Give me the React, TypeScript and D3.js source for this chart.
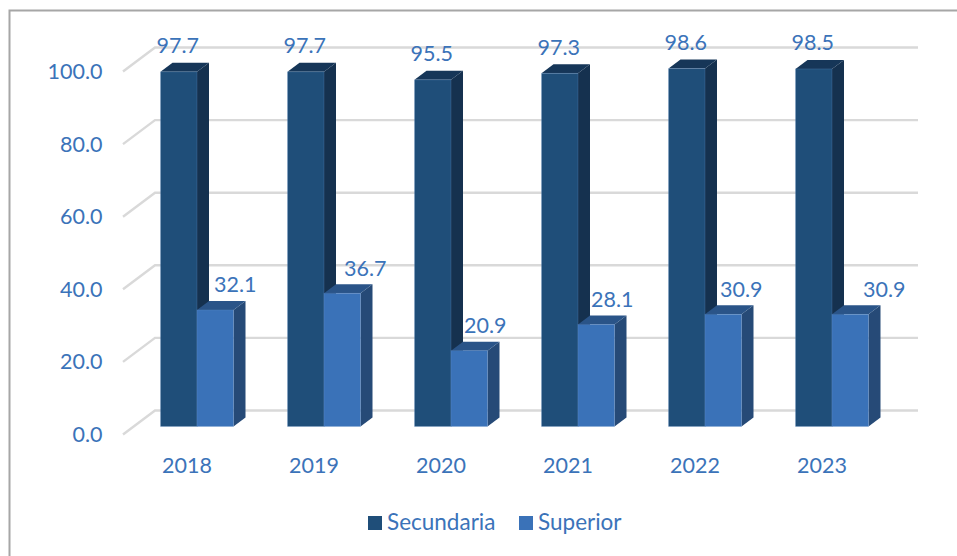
import React from "react";
import * as d3 from "d3";

const years = ["2018", "2019", "2020", "2021", "2022", "2023"];
const secundaria = [97.7, 97.7, 95.5, 97.3, 98.6, 98.5];
const superior = [32.1, 36.7, 20.9, 28.1, 30.9, 30.9];
const yTicks = [0, 20, 40, 60, 80, 100];
const superiorLabelNudge = [20, 23, 16, 16, 18, 34];

const FONT = "Lato, 'Open Sans', sans-serif";
const TEXT = "#3b73b9";
const GRID = "#d9d9d9";
const DX = 12;
const DY = -9;

const y = d3.scaleLinear().domain([0, 100]).range([426.5, 63.5]);
const x = d3.scaleBand<string>().domain(years).range([133.5, 895.5]).paddingInner(54 / 127).paddingOuter(27 / 127);
const series = d3.scaleBand<string>().domain(["Secundaria", "Superior"]).range([0, x.bandwidth()]);

const styles = {
  Secundaria: { front: "#1f4e79", side: "#15314f", top: "#163658" },
  Superior: { front: "#3a72b8", side: "#264a77", top: "#2a5488" },
} as Record<string, { front: string; side: string; top: string }>;

function Bar({ name, year, value }: { name: string; year: string; value: number }) {
  const w = series.bandwidth();
  const x0 = (x(year) as number) + (series(name) as number);
  const x1 = x0 + w;
  const yt = y(value);
  const yb = y(0);
  const s = styles[name];
  const path = d3.line();
  return (
    <g>
      <path d={path([[x1, yt], [x1 + DX, yt + DY], [x1 + DX, yb + DY], [x1, yb]]) + "Z"} fill={s.side} />
      <path d={path([[x0, yt], [x0 + DX, yt + DY], [x1 + DX, yt + DY], [x1, yt]]) + "Z"} fill={s.top} />
      <rect x={x0} y={yt} width={w} height={yb - yt} fill={s.front} stroke="#6f9ad0" strokeOpacity={0.3} strokeWidth={0.8} />
    </g>
  );
}

export default function App() {
  const gridLine = d3.line();
  const FS = 21.5;
  return (
    <svg width={957} height={556} style={{ position: "absolute", left: 0, top: 0, background: "#fff" }} fontFamily={FONT}>
      <path d={gridLine([[9.5, 556], [9.5, 10.5], [957, 10.5]]) as string} fill="none" stroke="#a6a6a6" strokeWidth={2} />

      {yTicks.map((t) => (
        <g key={t}>
          <path
            d={gridLine([[123, y(t) + 8], [155, y(t) - 16], [918, y(t) - 16]]) as string}
            fill="none"
            stroke={GRID}
            strokeWidth={2.4}
          />
          <text x={102.5} y={y(t) + 15.5} textAnchor="end" fontSize={FS} fill={TEXT}>
            {t.toFixed(1)}
          </text>
        </g>
      ))}

      {years.map((yr, i) => (
        <g key={yr}>
          <Bar name="Secundaria" year={yr} value={secundaria[i]} />
          <Bar name="Superior" year={yr} value={superior[i]} />
        </g>
      ))}

      {years.map((yr, i) => (
        <g key={yr} fontSize={FS} fill={TEXT} textAnchor="middle">
          <text x={(x(yr) as number) + series.bandwidth() / 2 - 1} y={y(secundaria[i]) - 18.5}>
            {secundaria[i].toFixed(1)}
          </text>
          <text
            x={(x(yr) as number) + series.bandwidth() * 1.5 + superiorLabelNudge[i]}
            y={y(superior[i]) - 17.5}
          >
            {superior[i].toFixed(1)}
          </text>
          <text x={(x(yr) as number) + x.bandwidth() / 2 - 10} y={473}>
            {yr}
          </text>
        </g>
      ))}

      <g fontSize={22.5} fill={TEXT}>
        <rect x={368} y={516} width={14} height={14} fill={styles.Secundaria.front} />
        <text x={387} y={530}>Secundaria</text>
        <rect x={519} y={516} width={14} height={14} fill={styles.Superior.front} />
        <text x={538} y={530}>Superior</text>
      </g>
    </svg>
  );
}
